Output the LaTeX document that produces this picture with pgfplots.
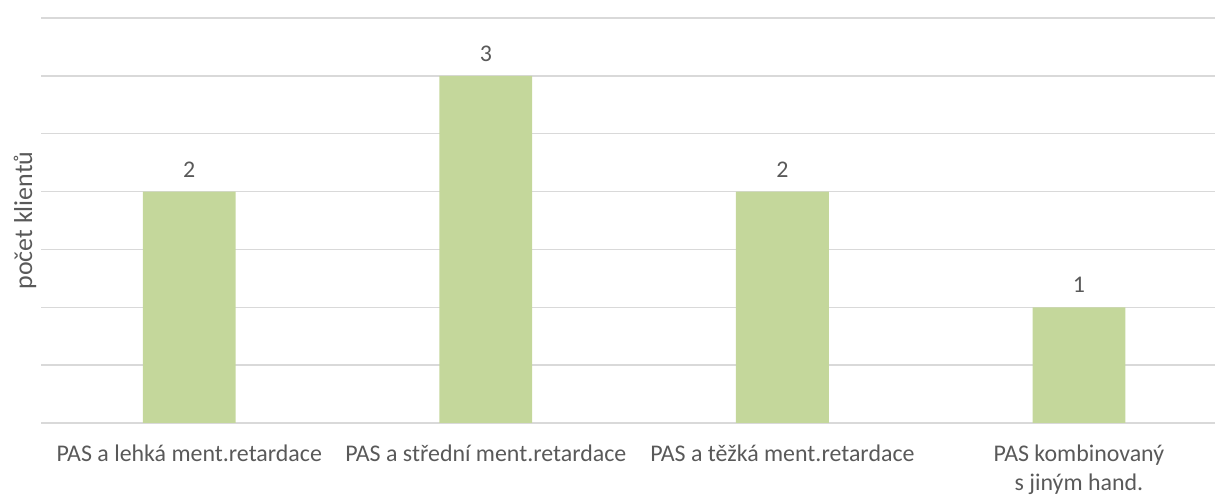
\documentclass[border=0pt]{standalone}
\usepackage{pgfplots}
\pgfplotsset{compat=1.18}
\usepackage{fontspec}
\setmainfont{Carlito}
\definecolor{barc}{HTML}{C4D79B}
\definecolor{txt}{HTML}{595959}
\definecolor{gridc}{HTML}{D9D9D9}
\begin{document}
\begin{tikzpicture}[x=1bp,y=1bp]
\useasboundingbox (0,0) rectangle (1215,495);
\begin{axis}[
  at={(41bp,72bp)}, anchor=south west,
  scale only axis, width=1174bp, height=405bp,
  xmin=-0.5, xmax=3.459, ymin=0, ymax=3.5,
  ytick={0,0.5,...,3.5}, yticklabels={},
  ymajorgrids, major grid style={draw=gridc, line width=1.5bp},
  axis line style={draw=none},
  tick style={draw=none},
  xtick={0,1,2,3},
  xticklabels={PAS a lehká ment.retardace, PAS a střední ment.retardace, PAS a těžká ment.retardace, {PAS kombinovaný\\s jiným hand.}},
  xticklabel style={align=center, text=txt, font=\fontsize{24}{29}\selectfont, yshift=-18bp},
  ylabel={počet klientů},
  every axis y label/.style={at={(axis description cs:0,0.5)}, rotate=90, anchor=center, yshift=16bp, text=txt, font=\fontsize{26}{30}\selectfont},
  /pgf/number format/assume math mode=true,
  clip=false,
]
\addplot[ybar, bar width=0.313, fill=barc, draw=none,
  nodes near coords,
  every node near coord/.style={text=txt, font=\fontsize{24}{28}\selectfont, yshift=11bp}]
  coordinates {(0,2) (1,3) (2,2) (3,1)};
\end{axis}
\end{tikzpicture}
\end{document}
